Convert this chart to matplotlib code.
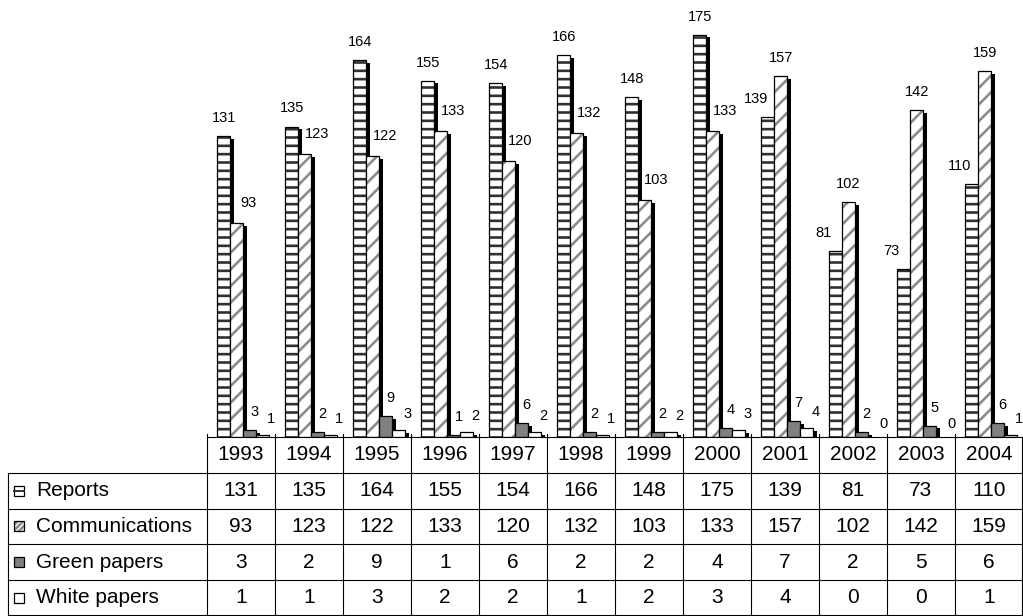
import matplotlib
matplotlib.use("Agg")
import matplotlib.pyplot as plt
from matplotlib.patches import Rectangle
from matplotlib import transforms

years = ["1993", "1994", "1995", "1996", "1997", "1998",
         "1999", "2000", "2001", "2002", "2003", "2004"]
reports = [131, 135, 164, 155, 154, 166, 148, 175, 139, 81, 73, 110]
communications = [93, 123, 122, 133, 120, 132, 103, 133, 157, 102, 142, 159]
green_papers = [3, 2, 9, 1, 6, 2, 2, 4, 7, 2, 5, 6]
white_papers = [1, 1, 3, 2, 2, 1, 2, 3, 4, 0, 0, 1]
series_names = ["Reports", "Communications", "Green papers", "White papers"]
series = [reports, communications, green_papers, white_papers]

plt.rcParams['font.family'] = ['Liberation Sans', 'DejaVu Sans']
plt.rcParams['hatch.linewidth'] = 1.9

W, H = 1023, 616
fig = plt.figure(figsize=(W / 100, H / 100), dpi=100)

# layout in pixels
plot_left, base_y = 207, 437
px_per_unit = 2.3
PT = 0.72  # points per pixel at 100 dpi

ax = fig.add_axes([plot_left / W, (H - base_y) / H, 1 - plot_left / W, base_y / H])
ax.set_xlim(0, len(years))
ax.set_ylim(0, base_y / px_per_unit)
ax.axis('off')

# bar geometry, in category units
first, width = 0.15, 0.19
dx, dy = 0.06, 1.3  # depth of the black side face

styles = [
    dict(face='white', hatch='--', hatch_col='#303030'),
    dict(face='white', hatch='//', hatch_col='#8c8c8c'),
    dict(face='#808080', hatch=None, hatch_col=None),
    dict(face='white', hatch=None, hatch_col=None),
]

for k, (vals, st) in enumerate(zip(series, styles)):
    for i, v in enumerate(vals):
        if v <= 0:
            continue
        x0 = i + first + k * width
        ax.add_patch(Rectangle((x0 + dx, 0), width, max(v - dy, 0),
                               facecolor='black', edgecolor='none', zorder=2 * k + 1))
        if st['hatch']:
            ax.add_patch(Rectangle((x0, 0), width, v, facecolor=st['face'],
                                   edgecolor=st['hatch_col'], hatch=st['hatch'],
                                   linewidth=0, zorder=2 * k + 2))
            ax.add_patch(Rectangle((x0, 0), width, v, fill=False,
                                   edgecolor='black', linewidth=0.9, zorder=2 * k + 2))
        else:
            ax.add_patch(Rectangle((x0, 0), width, v, facecolor=st['face'],
                                   edgecolor='black', linewidth=0.9, zorder=2 * k + 2))

# value labels above the bars
for k, vals in enumerate(series):
    for i, v in enumerate(vals):
        xc = i + first + (k + 0.5) * width
        if k == 0:
            off = (-12 if communications[i] > reports[i] else 0, 14)
        elif k == 1:
            off = (12, 16) if reports[i] > communications[i] else (0, 14)
        elif k == 2:
            off = (5, 14)
        else:
            off = (9, 12 if v > 0 else 9)
        ax.annotate(str(v), (xc, v), xytext=(off[0] * PT, off[1] * PT),
                    textcoords='offset points', ha='center', va='baseline',
                    fontsize=10.5, zorder=20, annotation_clip=False)

# data table underneath
ov = fig.add_axes([0, 0, 1, 1])
ov.set_xlim(0, W)
ov.set_ylim(H, 0)
ov.axis('off')
tr = transforms.blended_transform_factory(ax.transData, ov.transData)

row_top = 473
row_h = 35.6
table_bottom = row_top + 4 * row_h
line_kw = dict(color='black', linewidth=0.8)

ov.plot([0, len(years)], [base_y, base_y], transform=tr, **line_kw)
for i in range(len(years) + 1):
    ov.plot([i, i], [base_y - 3, table_bottom], transform=tr, **line_kw)
for r in range(5):
    y = row_top + r * row_h
    ov.plot([8, W - 1], [y, y], **line_kw)
ov.plot([8, 8], [row_top, table_bottom], **line_kw)
ov.plot([W - 1, W - 1], [base_y, table_bottom], **line_kw)

fs = 15
for i, yr in enumerate(years):
    ov.text(i + 0.5, (base_y + row_top) / 2, yr, transform=tr,
            ha='center', va='center', fontsize=fs)

for r, (name, vals) in enumerate(zip(series_names, series)):
    yc = row_top + (r + 0.5) * row_h
    ov.text(36, yc, name, ha='left', va='center', fontsize=fs)
    for i, v in enumerate(vals):
        ov.text(i + 0.5, yc, str(v), transform=tr,
                ha='center', va='center', fontsize=fs)

# legend keys in the row headers
kx, ks = 14, 10
for r, st in enumerate(styles):
    yc = row_top + (r + 0.5) * row_h
    y0 = yc - ks / 2
    if r == 0:
        ov.add_patch(Rectangle((kx, y0), ks, ks, facecolor='white',
                               edgecolor='black', linewidth=0.9))
        ov.plot([kx, kx + ks], [yc, yc], color='#303030', linewidth=1.4)
    elif r == 1:
        ov.add_patch(Rectangle((kx, y0), ks, ks, facecolor='white',
                               edgecolor='#8c8c8c', hatch='//////', linewidth=0))
        ov.add_patch(Rectangle((kx, y0), ks, ks, fill=False,
                               edgecolor='black', linewidth=0.9))
    else:
        ov.add_patch(Rectangle((kx, y0), ks, ks, facecolor=st['face'],
                               edgecolor='black', linewidth=0.9))

fig.savefig('out.png', dpi=100)
